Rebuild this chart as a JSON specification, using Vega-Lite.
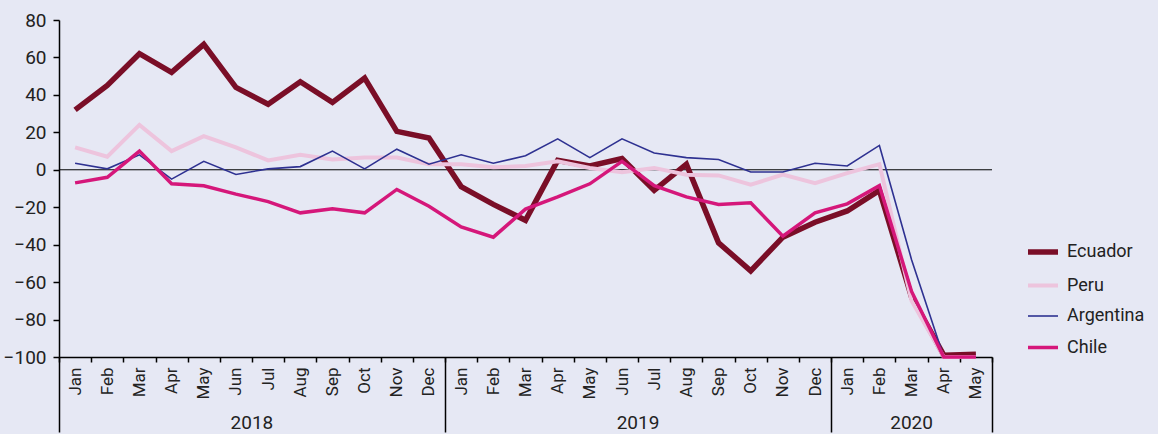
{
  "$schema": "https://vega.github.io/schema/vega-lite/v6.json",
  "autosize": {"type": "none"},
  "width": 933,
  "height": 337,
  "padding": {"left": 59, "top": 20, "right": 166, "bottom": 77},
  "background": "#E6E8F4",
  "config": {
    "view": {"stroke": null},
    "font": "Roboto",
    "axis": {"labelFont": "Roboto", "grid": false, "title": null, "labelColor": "#222222", "domainColor": "#000000", "tickColor": "#000000"}
  },
  "data": {"values": [
    {"country":"Ecuador","month":"2018-Jan","value":32},{"country":"Ecuador","month":"2018-Feb","value":45},{"country":"Ecuador","month":"2018-Mar","value":62},{"country":"Ecuador","month":"2018-Apr","value":52},{"country":"Ecuador","month":"2018-May","value":67},{"country":"Ecuador","month":"2018-Jun","value":44},{"country":"Ecuador","month":"2018-Jul","value":35},{"country":"Ecuador","month":"2018-Aug","value":47},{"country":"Ecuador","month":"2018-Sep","value":36},{"country":"Ecuador","month":"2018-Oct","value":49},{"country":"Ecuador","month":"2018-Nov","value":20.5},{"country":"Ecuador","month":"2018-Dec","value":17},
    {"country":"Ecuador","month":"2019-Jan","value":-9},{"country":"Ecuador","month":"2019-Feb","value":-18.5},{"country":"Ecuador","month":"2019-Mar","value":-27},{"country":"Ecuador","month":"2019-Apr","value":5},{"country":"Ecuador","month":"2019-May","value":2},{"country":"Ecuador","month":"2019-Jun","value":6},{"country":"Ecuador","month":"2019-Jul","value":-11},{"country":"Ecuador","month":"2019-Aug","value":3},{"country":"Ecuador","month":"2019-Sep","value":-39},{"country":"Ecuador","month":"2019-Oct","value":-54},{"country":"Ecuador","month":"2019-Nov","value":-36},{"country":"Ecuador","month":"2019-Dec","value":-28},
    {"country":"Ecuador","month":"2020-Jan","value":-22},{"country":"Ecuador","month":"2020-Feb","value":-11},{"country":"Ecuador","month":"2020-Mar","value":-68},{"country":"Ecuador","month":"2020-Apr","value":-99},{"country":"Ecuador","month":"2020-May","value":-98.5},
    {"country":"Peru","month":"2018-Jan","value":12},{"country":"Peru","month":"2018-Feb","value":7},{"country":"Peru","month":"2018-Mar","value":24},{"country":"Peru","month":"2018-Apr","value":10},{"country":"Peru","month":"2018-May","value":18},{"country":"Peru","month":"2018-Jun","value":12},{"country":"Peru","month":"2018-Jul","value":5},{"country":"Peru","month":"2018-Aug","value":8},{"country":"Peru","month":"2018-Sep","value":5.5},{"country":"Peru","month":"2018-Oct","value":6.5},{"country":"Peru","month":"2018-Nov","value":6.5},{"country":"Peru","month":"2018-Dec","value":3},
    {"country":"Peru","month":"2019-Jan","value":3},{"country":"Peru","month":"2019-Feb","value":1.3},{"country":"Peru","month":"2019-Mar","value":2},{"country":"Peru","month":"2019-Apr","value":4.5},{"country":"Peru","month":"2019-May","value":1},{"country":"Peru","month":"2019-Jun","value":-1.3},{"country":"Peru","month":"2019-Jul","value":1},{"country":"Peru","month":"2019-Aug","value":-2.6},{"country":"Peru","month":"2019-Sep","value":-3},{"country":"Peru","month":"2019-Oct","value":-8},{"country":"Peru","month":"2019-Nov","value":-2.6},{"country":"Peru","month":"2019-Dec","value":-7.2},
    {"country":"Peru","month":"2020-Jan","value":-1.8},{"country":"Peru","month":"2020-Feb","value":3},{"country":"Peru","month":"2020-Mar","value":-70},{"country":"Peru","month":"2020-Apr","value":-100},{"country":"Peru","month":"2020-May","value":-100},
    {"country":"Argentina","month":"2018-Jan","value":3.5},{"country":"Argentina","month":"2018-Feb","value":0.5},{"country":"Argentina","month":"2018-Mar","value":8},{"country":"Argentina","month":"2018-Apr","value":-5},{"country":"Argentina","month":"2018-May","value":4.5},{"country":"Argentina","month":"2018-Jun","value":-2.5},{"country":"Argentina","month":"2018-Jul","value":0.5},{"country":"Argentina","month":"2018-Aug","value":1.7},{"country":"Argentina","month":"2018-Sep","value":10},{"country":"Argentina","month":"2018-Oct","value":0.5},{"country":"Argentina","month":"2018-Nov","value":11},{"country":"Argentina","month":"2018-Dec","value":3},
    {"country":"Argentina","month":"2019-Jan","value":8},{"country":"Argentina","month":"2019-Feb","value":3.5},{"country":"Argentina","month":"2019-Mar","value":7.5},{"country":"Argentina","month":"2019-Apr","value":16.5},{"country":"Argentina","month":"2019-May","value":6.5},{"country":"Argentina","month":"2019-Jun","value":16.5},{"country":"Argentina","month":"2019-Jul","value":9},{"country":"Argentina","month":"2019-Aug","value":6.5},{"country":"Argentina","month":"2019-Sep","value":5.5},{"country":"Argentina","month":"2019-Oct","value":-1.2},{"country":"Argentina","month":"2019-Nov","value":-1.2},{"country":"Argentina","month":"2019-Dec","value":3.5},
    {"country":"Argentina","month":"2020-Jan","value":2},{"country":"Argentina","month":"2020-Feb","value":13},{"country":"Argentina","month":"2020-Mar","value":-48},{"country":"Argentina","month":"2020-Apr","value":-100},{"country":"Argentina","month":"2020-May","value":-100},
    {"country":"Chile","month":"2018-Jan","value":-7},{"country":"Chile","month":"2018-Feb","value":-4},{"country":"Chile","month":"2018-Mar","value":10},{"country":"Chile","month":"2018-Apr","value":-7.5},{"country":"Chile","month":"2018-May","value":-8.5},{"country":"Chile","month":"2018-Jun","value":-13},{"country":"Chile","month":"2018-Jul","value":-17},{"country":"Chile","month":"2018-Aug","value":-23},{"country":"Chile","month":"2018-Sep","value":-20.8},{"country":"Chile","month":"2018-Oct","value":-23},{"country":"Chile","month":"2018-Nov","value":-10.5},{"country":"Chile","month":"2018-Dec","value":-19.5},
    {"country":"Chile","month":"2019-Jan","value":-30.5},{"country":"Chile","month":"2019-Feb","value":-36},{"country":"Chile","month":"2019-Mar","value":-21},{"country":"Chile","month":"2019-Apr","value":-14.5},{"country":"Chile","month":"2019-May","value":-7.5},{"country":"Chile","month":"2019-Jun","value":4.5},{"country":"Chile","month":"2019-Jul","value":-8.5},{"country":"Chile","month":"2019-Aug","value":-14.5},{"country":"Chile","month":"2019-Sep","value":-18.5},{"country":"Chile","month":"2019-Oct","value":-17.6},{"country":"Chile","month":"2019-Nov","value":-35.5},{"country":"Chile","month":"2019-Dec","value":-23},
    {"country":"Chile","month":"2020-Jan","value":-18.2},{"country":"Chile","month":"2020-Feb","value":-8.5},{"country":"Chile","month":"2020-Mar","value":-65},{"country":"Chile","month":"2020-Apr","value":-100},{"country":"Chile","month":"2020-May","value":-100}
  ]},
  "resolve": {"axis": {"x": "independent"}},
  "layer": [
    {
      "data": {"values": [{"zero": 0}]},
      "mark": {"type": "rule", "color": "#000000", "strokeWidth": 1},
      "encoding": {"y": {"field": "zero", "type": "quantitative",
          "scale": {"domain": [-100, 80], "nice": false, "zero": false},
          "axis": {"values": [-100,-80,-60,-40,-20,0,20,40,60,80], "tickSize": 6, "tickWidth": 1.5, "domainWidth": 1.5, "labelPadding": 7, "labelFontSize": 19, "labelColor": "#222222"}}}
    },
    {
      "mark": {"type": "line", "strokeJoin": "miter", "strokeCap": "butt"},
      "encoding": {
        "x": {"field": "month", "type": "ordinal", "bandPosition": 0.5,
          "scale": {"type": "band", "paddingInner": 0, "paddingOuter": 0, "domain": ["2018-Jan","2018-Feb","2018-Mar","2018-Apr","2018-May","2018-Jun","2018-Jul","2018-Aug","2018-Sep","2018-Oct","2018-Nov","2018-Dec","2019-Jan","2019-Feb","2019-Mar","2019-Apr","2019-May","2019-Jun","2019-Jul","2019-Aug","2019-Sep","2019-Oct","2019-Nov","2019-Dec","2020-Jan","2020-Feb","2020-Mar","2020-Apr","2020-May"]},
          "axis": {"orient": "bottom", "labelAngle": -90, "labelAlign": "right", "labelBaseline": "middle", "labelPadding": 5, "labelFontSize": 17, "labelExpr": "length(datum.value + '') == 8 ? substring(datum.value + '', 5) : ''", "tickBand": "extent", "tickSize": 5, "tickWidth": 1.5, "domainWidth": 1.5}},
        "y": {"field": "value", "type": "quantitative",
          "scale": {"domain": [-100, 80], "nice": false, "zero": false},
          "axis": {"values": [-100,-80,-60,-40,-20,0,20,40,60,80], "tickSize": 6, "tickWidth": 1.5, "domainWidth": 1.5, "labelPadding": 7, "labelFontSize": 19, "labelColor": "#222222"}},
        "color": {"field": "country", "type": "nominal",
          "scale": {"domain": ["Ecuador","Peru","Argentina","Chile"], "range": ["#7A0E27","#EDC4DD","#2E3191","#D5177A"]},
          "legend": {"title": null, "orient": "none", "legendX": 966, "legendY": 214, "labelFontSize": 18, "labelFont": "Roboto", "labelColor": "#222222", "symbolType": "stroke", "symbolSize": 900, "labelOffset": 6, "rowPadding": 5.5}},
        "strokeWidth": {"field": "country", "type": "nominal",
          "scale": {"type": "ordinal", "domain": ["Ecuador","Peru","Argentina","Chile"], "range": [5.5, 4, 1.6, 3.5]},
          "legend": {"title": null, "orient": "none", "legendX": 966, "legendY": 214, "labelFontSize": 18, "labelFont": "Roboto", "labelColor": "#222222", "symbolType": "stroke", "symbolSize": 900, "labelOffset": 6, "rowPadding": 5.5}}
      }
    },
    {
      "mark": {"type": "point", "opacity": 0},
      "encoding": {
        "x": {"field": "month", "type": "ordinal",
          "axis": {"orient": "bottom", "values": ["2018-Jun","2019-Jun"], "labelExpr": "slice(datum.value, 0, 4)", "labelOffset": 16, "ticks": false, "domain": false, "labelPadding": 56, "labelFontSize": 19, "labelAngle": 0, "labelAlign": "center"}}
      }
    },
    {
      "mark": {"type": "point", "opacity": 0},
      "encoding": {
        "x": {"field": "month", "type": "ordinal",
          "axis": {"orient": "bottom", "values": ["2020-Mar"], "labelExpr": "slice(datum.value, 0, 4)", "ticks": false, "domain": false, "labelPadding": 56, "labelFontSize": 19, "labelAngle": 0, "labelAlign": "center"}}
      }
    },
    {
      "mark": {"type": "point", "opacity": 0},
      "encoding": {
        "x": {"field": "month", "type": "ordinal",
          "axis": {"orient": "bottom", "values": ["2018-Jan","2019-Jan","2020-Jan"], "bandPosition": 0, "labels": false, "domain": false, "tickSize": 75, "tickWidth": 1.5}}
      }
    },
    {
      "mark": {"type": "point", "opacity": 0},
      "encoding": {
        "x": {"field": "month", "type": "ordinal",
          "axis": {"orient": "bottom", "values": ["2020-May"], "bandPosition": 1, "labels": false, "domain": false, "tickSize": 75, "tickWidth": 1.5}}
      }
    }
  ]
}
